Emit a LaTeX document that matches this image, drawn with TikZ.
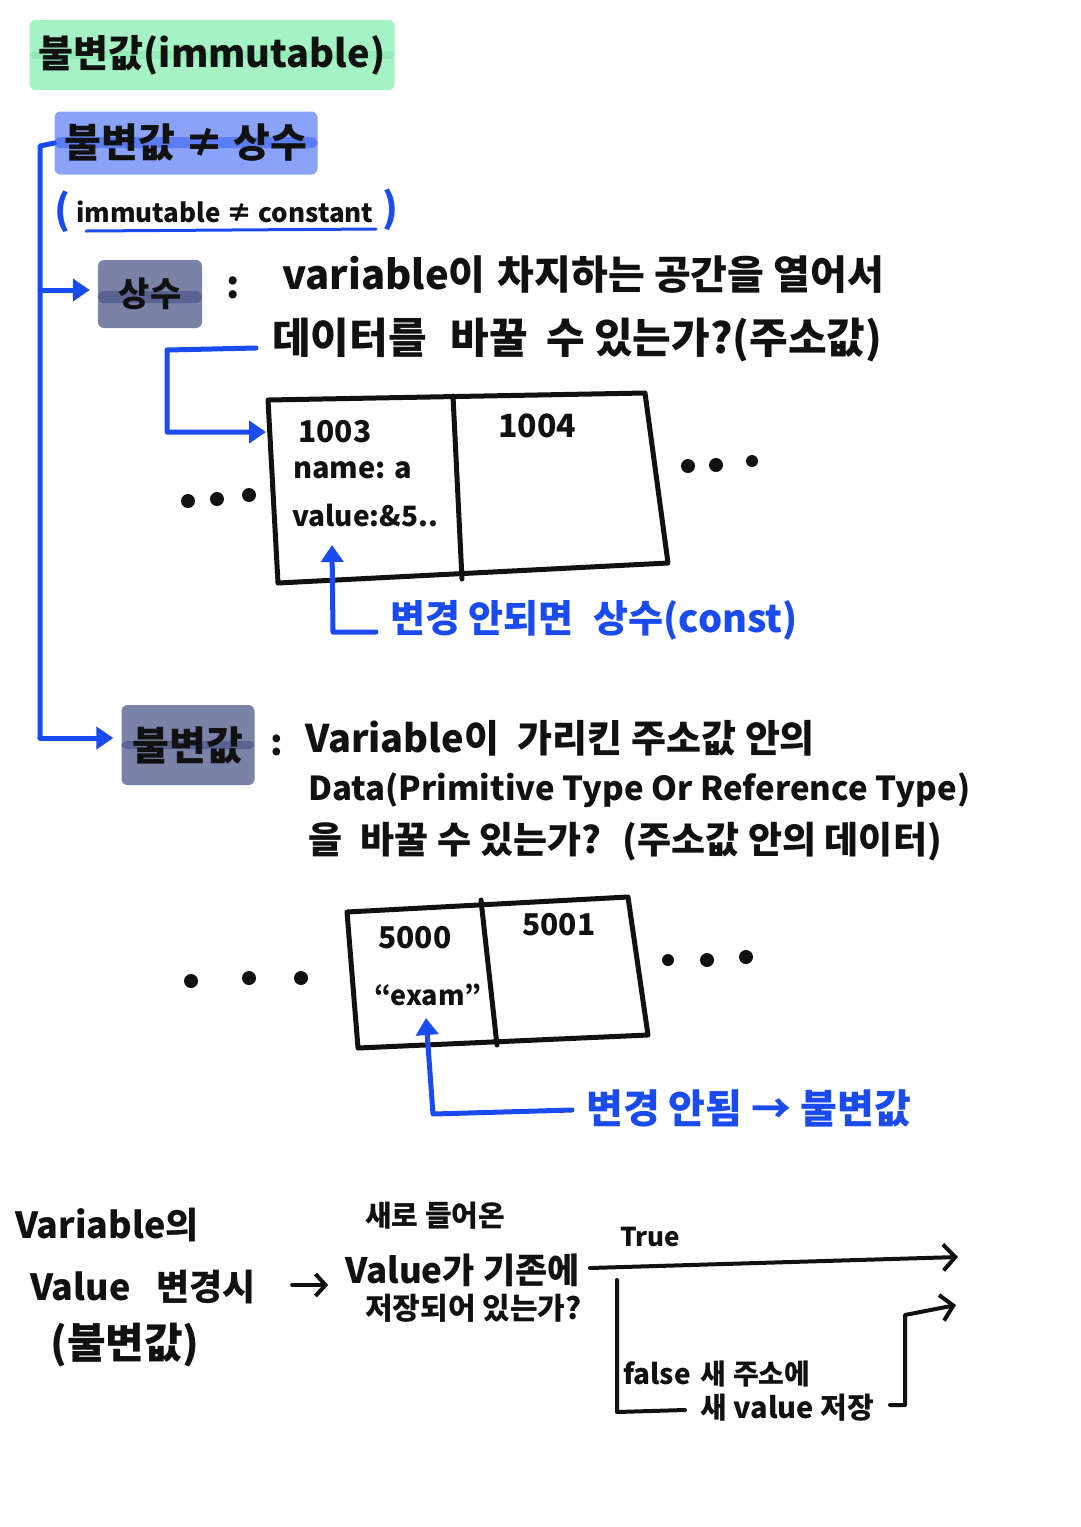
\documentclass[tikz,border=0pt]{standalone}
\usepackage{fontspec}
\setmainfont{Noto Sans CJK KR}
\usetikzlibrary{arrows.meta}
\definecolor{pen}{HTML}{1A4BF0}
\definecolor{ink}{HTML}{111111}
\definecolor{hlgreen}{HTML}{A5F2C5}
\definecolor{hlgreendk}{HTML}{93ECB6}
\definecolor{hlblue}{HTML}{8AA2F7}
\definecolor{hlbluedk}{HTML}{5B7CF3}
\definecolor{hlgray}{HTML}{7A82A8}
\definecolor{hlgraydk}{HTML}{5A6392}
\newcommand\fsz[1]{\fontsize{#1pt}{#1pt}\selectfont\bfseries}
\begin{document}
\begin{tikzpicture}[x=1pt,y=-1pt,
  txt/.style={anchor=west,inner sep=0pt,text=ink},
  btxt/.style={anchor=west,inner sep=0pt,text=pen},
  hlbox/.style={inner sep=0pt,rounded corners=6pt,text=ink},
  penline/.style={draw=pen,line width=5pt,line cap=round,line join=round},
  penarrow/.style={penline,-{Triangle[length=17pt,width=22pt]}},
  inkline/.style={draw=ink,line width=4pt,line cap=round,line join=round},
  inkarrow/.style={inkline,-{Straight Barb[length=12pt,width=26pt,line width=4pt]}},
  cellline/.style={draw=ink,line width=5pt,line cap=round,line join=round},
  dot/.style={fill=ink}]
\useasboundingbox[fill=white] (0,0) rectangle (1080,1527);

% ---------- title highlights ----------
\node[hlbox,fill=hlgreen,minimum width=365pt,minimum height=70pt,
  path picture={\fill[hlgreendk] ([yshift=4pt]path picture bounding box.west) rectangle ([yshift=-4pt]path picture bounding box.east);},
  font=\fsz{38}] (title) at (212,55) {불변값(immutable)};

\node[hlbox,fill=hlblue,minimum width=263pt,minimum height=63pt,
  path picture={\fill[hlbluedk] ([yshift=6pt]path picture bounding box.west) rectangle ([yshift=-5pt]path picture bounding box.east);},
  font=\fsz{40}] (neq) at (186,143) {불변값 ≠ 상수};

\node[txt,font=\fsz{26}] (neqen) at (76,212) {immutable ≠ constant};
\node[btxt,font=\fsz{40}] (lpar) at (54,212) {(};
\node[btxt,font=\fsz{40}] (rpar) at (382,210) {)};
\coordinate (ulA) at (86,231);
\coordinate (ulB) at (376,229);
\draw[draw=pen,line width=3pt,line cap=round] (ulA) -- (ulB);

% ---------- constant section ----------
\node[hlbox,fill=hlgray,minimum width=104pt,minimum height=68pt,
  path picture={\fill[hlgraydk] ([yshift=3pt]path picture bounding box.west) rectangle ([yshift=-9pt]path picture bounding box.east);},
  font=\fsz{34}] (sangsu) at (150,294) {상수};
\node[txt,font=\fsz{38}] (colon1) at (226,288) {:};
\node[txt,font=\fsz{40}] (line1) at (282,275) {variable이\hspace{12pt}차지하는 공간을 열어서};
\node[txt,font=\fsz{42}] (line2) at (272,340) {데이터를\hspace{24pt}바꿀\hspace{18pt}수 있는가?(주소값)};

% memory box 1
\coordinate (b1tl) at (268,400);
\coordinate (b1tm) at (453,396);
\coordinate (b1tr) at (645,393);
\coordinate (b1br) at (668,563);
\coordinate (b1bm) at (462,579);
\coordinate (b1bl) at (278,583);
\draw[cellline] (b1tl) -- (b1tr) -- (b1br) -- (b1bl) -- cycle;
\draw[cellline] (b1tm) -- (b1bm);
\node[txt,font=\fsz{30}] (a1003) at (298,432) {1003};
\node[txt,font=\fsz{29}] (aname) at (293,470) {name: a};
\node[txt,font=\fsz{28}] (aval) at (292,515) {value:\&5..};
\node[txt,font=\fsz{32}] (a1004) at (498,426) {1004};
\fill[dot] (188,501) circle (7pt) (217,499) circle (7pt) (249,495) circle (7pt);
\fill[dot] (688,466) circle (7pt) (716,465) circle (7pt) (752,461) circle (6pt);
\coordinate (c1w) at (266,432);
\coordinate (v1tip) at (332,545);

\node[btxt,font=\fsz{38}] (cnote) at (390,620) {변경 안되면\hspace{20pt}상수(const)};

% ---------- immutable section ----------
\node[hlbox,fill=hlgray,minimum width=133pt,minimum height=80pt,
  path picture={\fill[hlgraydk] ([yshift=4pt]path picture bounding box.west) rectangle ([yshift=-4pt]path picture bounding box.east);},
  font=\fsz{40}] (bulbyeon) at (188,745) {불변값};
\node[txt,font=\fsz{36}] (colon2) at (270,745) {:};
\node[txt,font=\fsz{38}] (line3) at (305,738) {Variable이\hspace{10pt} 가리킨 주소값 안의};
\node[txt,font=\fsz{33}] (line4) at (308,790) {Data(Primitive Type Or Reference Type)};
\node[txt,font=\fsz{37}] (line5) at (308,842) {을\hspace{10pt} 바꿀 수 있는가?\hspace{10pt} (주소값 안의 데이터)};

% memory box 2
\coordinate (b2tl) at (347,912);
\coordinate (b2tm) at (481,900);
\coordinate (b2tr) at (628,897);
\coordinate (b2br) at (648,1035);
\coordinate (b2bm) at (497,1045);
\coordinate (b2bl) at (358,1048);
\draw[cellline] (b2tl) -- (b2tr) -- (b2br) -- (b2bl) -- cycle;
\draw[cellline] (b2tm) -- (b2bm);
\node[txt,font=\fsz{30}] (a5000) at (378,938) {5000};
\node[txt,font=\fsz{27}] (aexam) at (374,995) {“exam”};
\node[txt,font=\fsz{30}] (a5001) at (522,925) {5001};
\fill[dot] (191,981) circle (7pt) (249,978) circle (7pt) (301,978) circle (7pt);
\fill[dot] (668,960) circle (6pt) (707,960) circle (7pt) (746,957) circle (7pt);
\coordinate (v2tip) at (426,1018);

\node[btxt,font=\fsz{40}] (inote) at (586,1108) {변경 안됨 → 불변값};

% ---------- blue connectors ----------
\coordinate (trunkTop) at (40,146);
\coordinate (br1) at (40,290);
\coordinate (trunkBot) at (40,738);
\draw[penline] (neq.west) -- (trunkTop) -- (trunkBot);
\draw[penarrow,shorten >=8pt] (br1) -- (br1 -| sangsu.west);
\draw[penarrow,shorten >=8pt] (trunkBot) -- (trunkBot -| bulbyeon.west);
\draw[penarrow] ([xshift=-16pt,yshift=-8pt]line2.west) -- (167,350) |- (c1w);
\draw[penarrow] ([xshift=-14pt,yshift=-12pt]cnote.west) -- (333,632) -- (v1tip);
\draw[penarrow] ([xshift=-14pt,yshift=-2pt]inote.west) -- (433,1114) -- (v2tip);

% ---------- bottom flow ----------
\node[txt,font=\fsz{36}] (varof) at (15,1225) {Variable의};
\node[txt,font=\fsz{36}] (vchange) at (30,1287) {Value\hspace{26pt}변경시};
\node[txt,font=\fsz{42}] (bparen) at (50,1345) {(불변값)};
\node[txt,font=\fsz{29}] (newin) at (365,1216) {새로 들어온};
\node[txt,font=\fsz{35}] (q1) at (345,1270) {Value가 기존에};
\node[txt,font=\fsz{30}] (q2) at (365,1308) {저장되어 있는가?};
\draw[inkarrow,-{Straight Barb[length=10pt,width=22pt,line width=4pt]}] (vchange.east) ++(36,-2) -- ++(36,0);
\coordinate (qout) at (590,1268);
\coordinate (trueEnd) at (958,1257);
\node[txt,font=\fsz{26}] (truelbl) at (620,1237) {True};
\draw[inkarrow] (qout) -- (trueEnd);
\coordinate (fTop) at (617,1280);
\coordinate (fBot) at (617,1412);
\coordinate (fEnd) at (685,1410);
\draw[inkline] (fTop) -- (fBot) -- (fEnd);
\node[txt,font=\fsz{28}] (flbl) at (623,1374) {false\hspace{10pt}새 주소에};
\node[txt,font=\fsz{29}] (fstore) at (700,1408) {새 value 저장};
\coordinate (f2a) at (890,1405);
\coordinate (f2b) at (905,1405);
\coordinate (f2c) at (905,1315);
\coordinate (f2end) at (956,1305);
\draw[inkarrow] (f2a) -- (f2b) -- (f2c) -- (f2end);
\end{tikzpicture}
\end{document}
